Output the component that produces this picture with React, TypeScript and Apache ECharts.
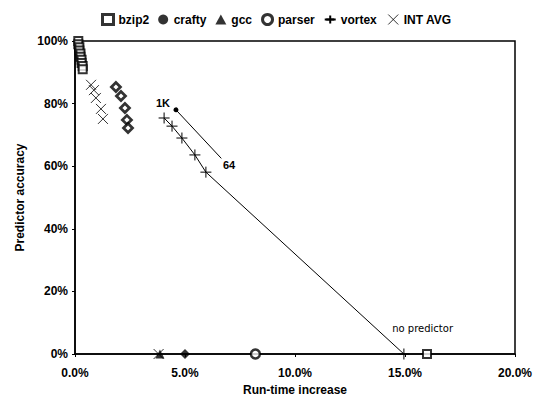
import React, { useEffect, useRef } from "react";
import * as echarts from "echarts";

// Run-time increase (%) vs predictor accuracy (%)
const bzip2X = [0.15, 0.15, 0.2, 0.2, 0.25, 0.25, 0.3, 0.3, 0.35, 0.35, 16.0];
const bzip2Y = [100, 99, 98, 97, 96, 95, 94, 93, 92, 91, 0];
const craftyX = [1.86, 2.09, 2.27, 2.36, 2.41];
const craftyY = [85.3, 82.4, 78.6, 74.8, 72.2];
const craftyNoPredX = [5.0];
const craftyNoPredY = [0];
const gccX = [3.86];
const gccY = [0];
const parserX = [8.2];
const parserY = [0];
const vortexX = [4.05, 4.41, 4.86, 5.45, 5.95, 14.95];
const vortexY = [75.4, 72.8, 69.0, 63.6, 58.1, 0];
const intAvgX = [0.73, 0.86, 0.95, 1.18, 1.27, 3.8];
const intAvgY = [86.0, 84.3, 81.8, 78.3, 75.1, 0];
const xTicks = [0, 5, 10, 15, 20];
const yTicks = [0, 20, 40, 60, 80, 100];
// annotation: arrow from "64" to "1K"
const arrowFrom = [6.65, 62.5];
const arrowTo = [4.59, 78.0];
const label1K = [4.0, 80.2];
const label64 = [7.0, 60.5];
const labelNoPred = [15.8, 8.2];

const zip = (xs: number[], ys: number[]) => xs.map((x, i) => [x, ys[i]]);

const PLUS = "path://M0,5L10,5M5,0L5,10";
const CROSS = "path://M0,0L10,10M10,0L0,10";
const FONT = "Liberation Sans";

export default function App() {
  const ref = useRef<HTMLDivElement>(null);
  useEffect(() => {
    if (!ref.current) return;
    const chart = echarts.init(ref.current, null, { renderer: "svg" });
    const txt = { color: "#000", fontFamily: FONT, fontWeight: "bold" as const, fontSize: 11 };
    chart.setOption({
      animation: false,
      backgroundColor: "#fff",
      textStyle: { fontFamily: FONT },
      legend: {
        top: 7,
        left: 96,
        itemWidth: 11,
        itemHeight: 10,
        itemGap: 9,
        textStyle: { ...txt, fontSize: 12 },
        data: [
          { name: "bzip2", icon: "rect", itemStyle: { color: "#fff", borderColor: "#000", borderWidth: 3 } },
          { name: "crafty", icon: "circle", itemStyle: { color: "#000", borderColor: "#000", borderWidth: 0 } },
          { name: "gcc", icon: "triangle", itemStyle: { color: "#000" } },
          { name: "parser", icon: "circle", itemStyle: { color: "#fff", borderColor: "#000", borderWidth: 3 } },
          { name: "vortex" },
          { name: "INT AVG", icon: CROSS, itemStyle: { color: "none", borderColor: "#000", borderWidth: 1 } },
        ],
      },
      grid: {
        left: 75,
        right: 25,
        top: 41,
        bottom: 51,
        show: true,
        borderColor: "#000",
        borderWidth: 1.5,
        backgroundColor: "transparent",
      },
      xAxis: {
        type: "value",
        min: xTicks[0],
        max: xTicks[xTicks.length - 1],
        interval: 5,
        name: "Run-time increase",
        nameLocation: "middle",
        nameGap: 29,
        nameTextStyle: { ...txt, fontSize: 12 },
        axisLine: { lineStyle: { color: "#000", width: 1.5 } },
        axisTick: { show: true, length: 3, lineStyle: { color: "#000" } },
        splitLine: { show: false },
        axisLabel: { ...txt, fontSize: 12, margin: 13, formatter: (v: number) => v.toFixed(1) + "%" },
      },
      yAxis: {
        type: "value",
        min: yTicks[0],
        max: yTicks[yTicks.length - 1],
        interval: 20,
        name: "Predictor accuracy",
        nameLocation: "middle",
        nameGap: 47,
        nameTextStyle: { ...txt, fontSize: 12 },
        axisLine: { lineStyle: { color: "#000", width: 1.5 } },
        axisTick: { show: true, length: 3, lineStyle: { color: "#000" } },
        splitLine: { show: false },
        axisLabel: { ...txt, fontSize: 12, margin: 7, formatter: "{value}%" },
      },
      series: [
        {
          name: "bzip2",
          type: "scatter",
          symbol: "rect",
          symbolSize: 8,
          itemStyle: { color: "#fff", borderColor: "#000", borderWidth: 2 },
          data: zip(bzip2X, bzip2Y),
          z: 3,
        },
        {
          name: "crafty",
          type: "scatter",
          symbol: "diamond",
          symbolSize: 9,
          itemStyle: { color: "#fff", borderColor: "#000", borderWidth: 2.8 },
          data: zip(craftyX, craftyY),
        },
        {
          name: "crafty",
          type: "scatter",
          symbol: "diamond",
          symbolSize: 10,
          itemStyle: { color: "#000" },
          data: zip(craftyNoPredX, craftyNoPredY),
        },
        {
          name: "gcc",
          type: "scatter",
          symbol: "triangle",
          symbolSize: 9,
          itemStyle: { color: "#000" },
          data: zip(gccX, gccY),
        },
        {
          name: "parser",
          type: "scatter",
          symbol: "circle",
          symbolSize: 9,
          itemStyle: { color: "#fff", borderColor: "#000", borderWidth: 2.5 },
          data: zip(parserX, parserY),
        },
        {
          name: "vortex",
          type: "line",
          symbol: PLUS,
          symbolSize: 11,
          showAllSymbol: true,
          itemStyle: { color: "none", borderColor: "#000", borderWidth: 1 },
          lineStyle: { color: "#000", width: 1 },
          data: zip(vortexX, vortexY),
          markLine: {
            silent: true,
            symbol: ["none", "circle"],
            symbolSize: 5,
            lineStyle: { color: "#000", width: 1, type: "solid" },
            label: { show: false },
            data: [[{ coord: arrowFrom }, { coord: arrowTo }]],
          },
          markPoint: {
            silent: true,
            symbolSize: 0,
            label: { show: true, ...txt, fontSize: 11, position: "inside" },
            data: [
              { coord: label1K, value: "1K", label: { formatter: "1K" } },
              { coord: label64, value: "64", label: { formatter: "64" } },
              { coord: labelNoPred, value: "no predictor", label: { formatter: "no predictor", fontWeight: "normal", fontFamily: "DejaVu Sans", fontSize: 10 } },
            ],
          },
        },
        {
          name: "INT AVG",
          type: "scatter",
          symbol: CROSS,
          symbolSize: 10,
          itemStyle: { color: "none", borderColor: "#000", borderWidth: 1 },
          data: zip(intAvgX, intAvgY),
        },
      ],
    });
    return () => chart.dispose();
  }, []);
  return <div ref={ref} style={{ width: 540, height: 405, position: "absolute", left: 0, top: 0 }} />;
}
